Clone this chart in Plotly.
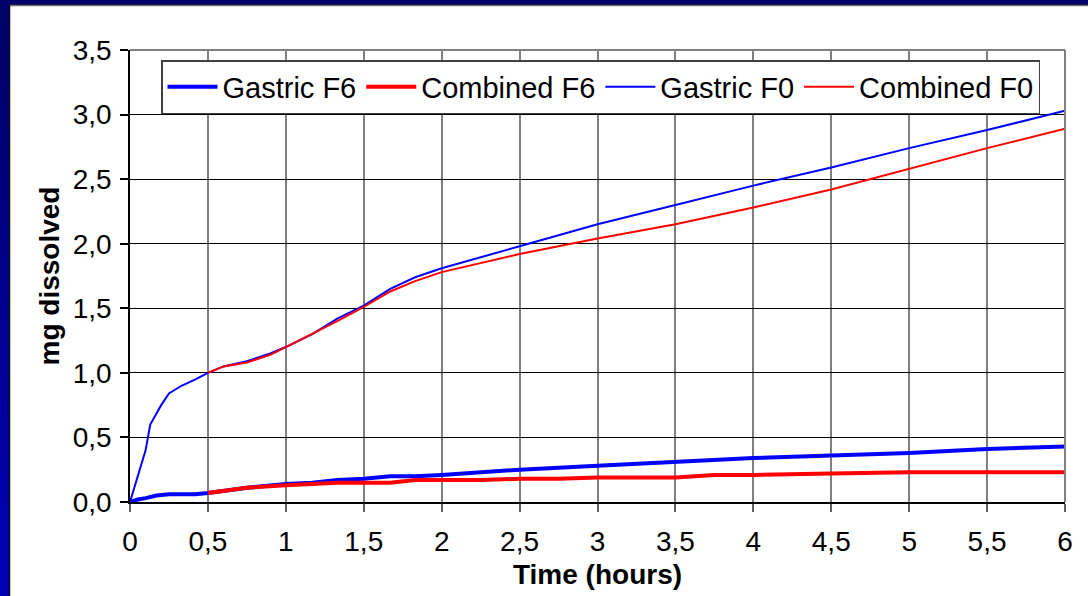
import plotly.graph_objects as go

# Dissolution profiles (mg dissolved vs time in hours)
t_gastric_f6 = [0, 0.05, 0.1, 0.17, 0.25, 0.33, 0.42, 0.5, 0.75, 1.0, 1.17, 1.33, 1.5, 1.67,
                1.83, 2.0, 2.5, 3.0, 3.5, 4.0, 4.5, 5.0, 5.5, 6.0]
gastric_f6 = [0, 0.02, 0.03, 0.05, 0.06, 0.06, 0.06, 0.07, 0.11, 0.14, 0.15, 0.17, 0.18, 0.2,
              0.2, 0.21, 0.25, 0.28, 0.31, 0.34, 0.36, 0.38, 0.41, 0.43]

t_combined_f6 = [0.5, 0.75, 1.0, 1.17, 1.33, 1.5, 1.67, 1.83, 2.0, 2.25, 2.5, 2.75, 3.0, 3.5,
                 3.75, 4.0, 4.5, 5.0, 5.5, 6.0]
combined_f6 = [0.07, 0.11, 0.13, 0.14, 0.15, 0.15, 0.15, 0.17, 0.17, 0.17, 0.18, 0.18, 0.19, 0.19,
               0.21, 0.21, 0.22, 0.23, 0.23, 0.23]

t_gastric_f0 = [0, 0.05, 0.1, 0.13, 0.2, 0.25, 0.33, 0.42, 0.5, 0.6, 0.75, 0.9, 1.0, 1.17, 1.33,
                1.5, 1.67, 1.83, 2.0, 2.5, 3.0, 3.5, 4.0, 4.5, 5.0, 5.5, 6.0]
gastric_f0 = [0, 0.2, 0.4, 0.6, 0.75, 0.84, 0.9, 0.95, 1.0, 1.05, 1.09, 1.15, 1.2, 1.3, 1.42,
              1.52, 1.65, 1.74, 1.81, 1.98, 2.15, 2.3, 2.45, 2.59, 2.74, 2.88, 3.03]

t_combined_f0 = [0.5, 0.6, 0.75, 0.9, 1.0, 1.17, 1.33, 1.5, 1.67, 1.83, 2.0, 2.5, 3.0, 3.5,
                 4.0, 4.5, 5.0, 5.5, 6.0]
combined_f0 = [1.0, 1.05, 1.08, 1.14, 1.2, 1.3, 1.4, 1.51, 1.63, 1.71, 1.78, 1.92, 2.04, 2.15,
               2.28, 2.42, 2.58, 2.74, 2.89]

x_ticks = [0, 0.5, 1, 1.5, 2, 2.5, 3, 3.5, 4, 4.5, 5, 5.5, 6]
x_tick_text = ["0", "0,5", "1", "1,5", "2", "2,5", "3", "3,5", "4", "4,5", "5", "5,5", "6"]
y_ticks = [0, 0.5, 1.0, 1.5, 2.0, 2.5, 3.0, 3.5]
y_tick_text = ["0,0", "0,5", "1,0", "1,5", "2,0", "2,5", "3,0", "3,5"]

FONT = "Arial, Liberation Sans, sans-serif"
FS = 28
W, H = 1088, 596
L, R, T, B = 130, 23, 50, 94
pw, ph = W - L - R, H - T - B


def px(x):
    return (x - L) / pw


def py(y):
    return (H - B - y) / ph


fig = go.Figure()
fig.add_trace(go.Scatter(x=t_gastric_f6, y=gastric_f6, mode="lines", name="Gastric F6",
                         line=dict(color="#0000FF", width=4)))
fig.add_trace(go.Scatter(x=t_combined_f6, y=combined_f6, mode="lines", name="Combined F6",
                         line=dict(color="#FF0000", width=4)))
fig.add_trace(go.Scatter(x=t_gastric_f0, y=gastric_f0, mode="lines", name="Gastric F0",
                         line=dict(color="#0000FF", width=2)))
fig.add_trace(go.Scatter(x=t_combined_f0, y=combined_f0, mode="lines", name="Combined F0",
                         line=dict(color="#FF0000", width=2)))

shapes = []
# slide frame: navy strip along the top
shapes.append(dict(type="rect", xref="paper", yref="paper", layer="below",
                   x0=px(-2), x1=px(W + 2), y0=py(5), y1=py(-2),
                   fillcolor="#000066", line=dict(width=0)))
# left strip fading from navy to blue
n = 30
for i in range(n):
    f = i / (n - 1)
    blue = int(0x66 + (0xB8 - 0x66) * f)
    y_top = 5 + (H - 5) * i / n
    y_bot = 5 + (H - 5) * (i + 1) / n + 1
    shapes.append(dict(type="rect", xref="paper", yref="paper", layer="below",
                       x0=px(-2), x1=px(9.5), y0=py(y_bot), y1=py(y_top),
                       fillcolor=f"rgb(0,0,{blue})", line=dict(width=0)))
# thin shadow edges of the white slide body
shapes.append(dict(type="line", xref="paper", yref="paper", layer="below",
                   x0=px(9.5), x1=px(W + 2), y0=py(5.5), y1=py(5.5),
                   line=dict(color="#707070", width=1.5)))
shapes.append(dict(type="line", xref="paper", yref="paper", layer="below",
                   x0=px(9.5), x1=px(9.5), y0=py(H + 2), y1=py(5),
                   line=dict(color="#101010", width=1.5)))
# gray plot-area border along top and right
shapes.append(dict(type="line", xref="paper", yref="paper", x0=0, x1=1, y0=1, y1=1,
                   line=dict(color="#808080", width=2)))
shapes.append(dict(type="line", xref="paper", yref="paper", x0=1, x1=1, y0=0, y1=1,
                   line=dict(color="#808080", width=2)))

fig.update_layout(
    width=W, height=H,
    margin=dict(l=L, r=R, t=T, b=B),
    paper_bgcolor="#FFFFFF",
    plot_bgcolor="#FFFFFF",
    font=dict(family=FONT, color="#000000", size=FS),
    shapes=shapes,
    showlegend=True,
    legend=dict(
        orientation="h",
        x=px(161), y=py(60), xanchor="left", yanchor="top",
        bgcolor="#FFFFFF", bordercolor="#404040", borderwidth=1.5,
        font=dict(family=FONT, size=FS + 1, color="#000000"),
        itemwidth=50,
    ),
    xaxis=dict(
        range=[0, 6], tickmode="array", tickvals=x_ticks, ticktext=x_tick_text,
        showgrid=True, gridcolor="#808080", gridwidth=2,
        showline=True, linecolor="#000000", linewidth=1.5,
        ticks="outside", ticklen=8, tickcolor="#606060", tickwidth=1.5,
        ticklabelstandoff=6,
        zeroline=False, tickfont=dict(size=FS),
        title=dict(text="<b>Time (hours)</b>", font=dict(size=FS), standoff=8),
    ),
    yaxis=dict(
        range=[0, 3.5], tickmode="array", tickvals=y_ticks, ticktext=y_tick_text,
        showgrid=True, gridcolor="#000000", gridwidth=1,
        showline=True, linecolor="#000000", linewidth=1.5,
        ticks="outside", ticklen=8, tickcolor="#000000", tickwidth=1.5,
        ticklabelstandoff=3,
        zeroline=False, tickfont=dict(size=FS),
        title=dict(text="<b>mg dissolved</b>", font=dict(size=FS), standoff=5),
    ),
)

# keep the page exactly the size of the figure
fig.write_html(
    "out.html",
    post_script="document.body.style.margin='0';"
                "document.body.style.overflow='hidden';"
                "document.documentElement.style.overflow='hidden';",
)
